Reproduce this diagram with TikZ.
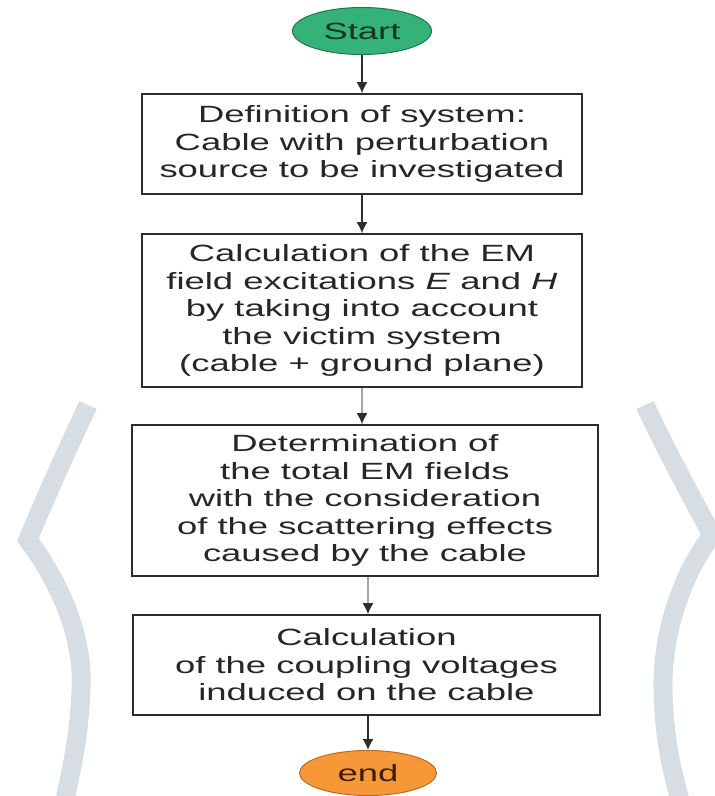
\documentclass[tikz,border=0pt]{standalone}
\usepackage{fontspec}
\setmainfont{Liberation Sans}[FakeStretch=1.55]
\usetikzlibrary{arrows.meta,shapes.geometric}
\definecolor{arcgray}{RGB}{214,222,227}
\definecolor{boxline}{RGB}{45,45,45}
\definecolor{txt}{RGB}{38,38,38}
\definecolor{startfill}{RGB}{52,178,120}
\definecolor{startline}{RGB}{30,120,80}
\definecolor{endfill}{RGB}{247,152,56}
\definecolor{endline}{RGB}{190,105,35}
\begin{document}
\begin{tikzpicture}[x=1pt,y=-1pt,
  bgarc/.style={draw=arcgray, line width=19pt, line join=miter, line cap=butt},
  box/.style={draw=boxline, line width=1.6pt, fill=white, align=center, inner sep=0pt,
    font=\fontsize{23.5}{27.5}\selectfont, text=txt},
  term/.style={ellipse, line width=1pt, inner sep=0pt, font=\fontsize{23.5}{27.5}\selectfont},
  flow/.style={draw=boxline, line width=1.6pt, -{Latex[length=11pt,width=11pt,color=boxline]}},
  flowgray/.style={draw=gray!70, line width=1.6pt, -{Latex[length=11pt,width=11pt,color=boxline]}}
]
\useasboundingbox (0,0) rectangle (715,796);
% background arcs
\draw[bgarc] (88,405) .. controls (68,448) and (44,500) .. (28,540)
  .. controls (62,585) and (84,640) .. (81,690)
  .. controls (79,740) and (70,775) .. (65,800);
\draw[bgarc] (645,405) .. controls (665,448) and (692,498) .. (712,535)
  .. controls (678,580) and (662,640) .. (663,690)
  .. controls (664,740) and (673,775) .. (680,800);
% nodes
\node[term, fill=startfill, draw=startline, minimum width=139pt, minimum height=47pt, text={rgb,255:red,25;green,50;blue,35}] (start) at (362,31) {Start};
\node[box, minimum width=440pt, minimum height=100pt] (b1) at (362,144)
  {Definition of system:\\Cable with perturbation\\source to be investigated};
\node[box, minimum width=440pt, minimum height=153pt] (b2) at (362,310.5)
  {Calculation of the EM\\field excitations \textit{E} and \textit{H}\\by taking into account\\the victim system\\(cable + ground plane)};
\node[box, minimum width=466pt, minimum height=151pt] (b3) at (365,500.5)
  {Determination of\\the total EM fields\\with the consideration\\of the scattering effects\\caused by the cable};
\node[box, minimum width=467pt, minimum height=100pt] (b4) at (366.5,665)
  {Calculation\\of the coupling voltages\\induced on the cable};
\node[term, fill=endfill, draw=endline, minimum width=137pt, minimum height=45pt, text={rgb,255:red,60;green,30;blue,10}] (end) at (368,773) {end};
% connectors
\draw[flow] (start.south) -- (start.south |- b1.north);
\draw[flow] (b1.south -| start.south) -- (b2.north -| start.south);
\draw[flowgray] (b2.south -| start.south) -- (b3.north -| start.south);
\draw[flowgray] (b3.south -| end.north) -- (b4.north -| end.north);
\draw[flow] (b4.south -| end.north) -- (end.north);
\end{tikzpicture}
\end{document}
